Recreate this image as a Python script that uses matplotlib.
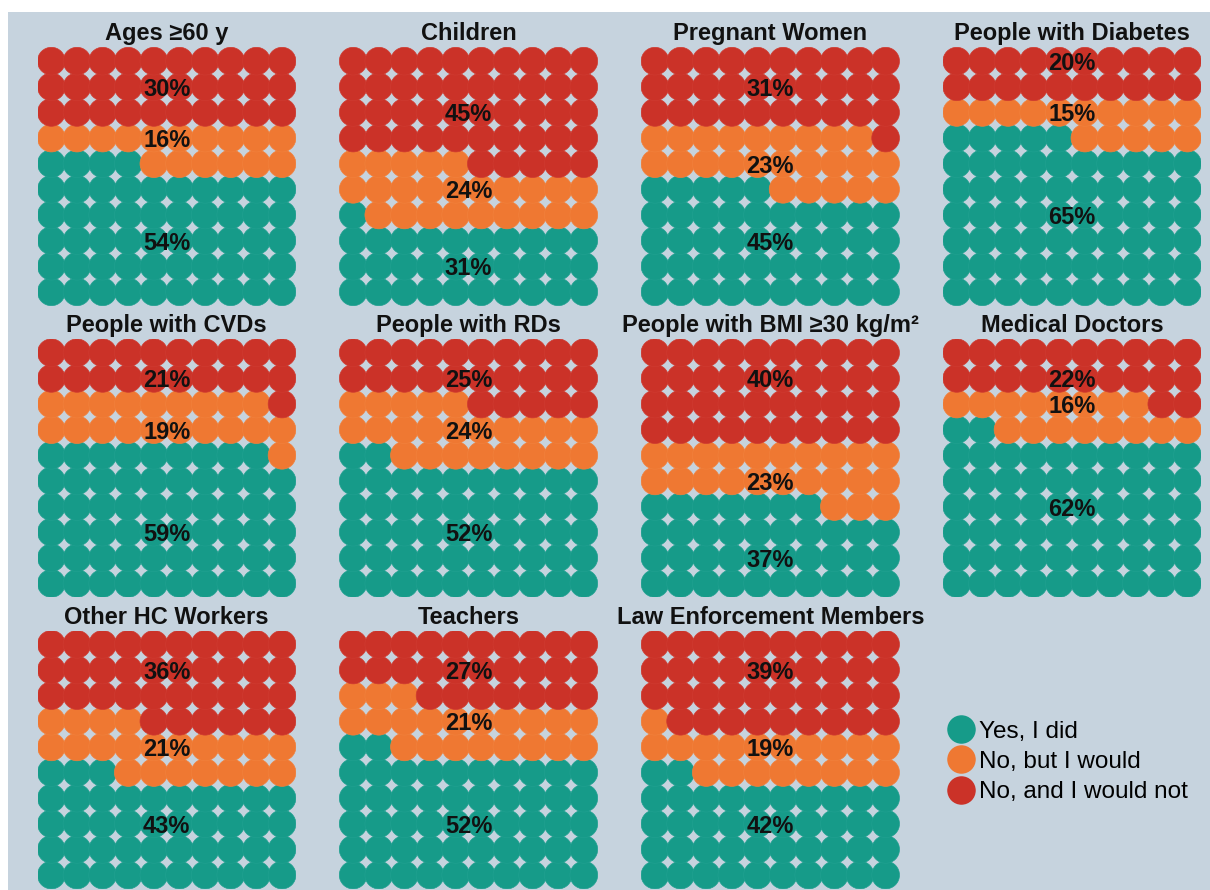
import matplotlib
matplotlib.use('Agg')
import matplotlib.pyplot as plt
from matplotlib.patches import Circle, Rectangle
from matplotlib.lines import Line2D

plt.rcParams['font.family'] = ['Liberation Sans', 'DejaVu Sans']

# ---------------- data ----------------
groups = ["Ages ≥60 y", "Children", "Pregnant Women", "People with Diabetes",
          "People with CVDs", "People with RDs", "People with BMI ≥30 kg/m²", "Medical Doctors",
          "Other HC Workers", "Teachers", "Law Enforcement Members"]
responses = ["Yes, I did", "No, but I would", "No, and I would not"]
colors = ["#169b89", "#ef7832", "#cb3228"]

# percentage labels shown
yes_pct = [54, 31, 45, 65, 59, 52, 37, 62, 43, 52, 42]
but_pct = [16, 24, 23, 15, 19, 24, 23, 16, 21, 21, 19]
not_pct = [30, 45, 31, 20, 21, 25, 40, 22, 36, 27, 39]

# waffle cell counts (out of 100 cells)
yes_cells = [54, 31, 45, 65, 59, 52, 37, 62, 43, 52, 42]
but_cells = [16, 24, 24, 15, 20, 23, 23, 16, 21, 21, 19]
not_cells = [30, 45, 31, 20, 21, 25, 40, 22, 36, 27, 39]

# ---------------- layout ----------------
W, H = 1210, 890
bg = "#c6d3de"
fig = plt.figure(figsize=(W / 100, H / 100), dpi=100)
fig.patch.set_facecolor("white")
fig.add_artist(Rectangle((8 / W, 0), 1 - 8 / W, 1 - 12 / H, transform=fig.transFigure,
                         facecolor=bg, edgecolor="none", zorder=-10))

NC = 10
D = 1.082           # circle diameter in cell units
size_px = 258.4
edge_cols = ["#1fa090", "#f1803b", "#cf3a30"]

for i, g in enumerate(groups):
    r, c = divmod(i, 4)
    left = 37.5 + 301.8 * c
    top = 47.3 + 291.6 * r
    ax = fig.add_axes([left / W, 1 - (top + size_px) / H, size_px / W, size_px / H])
    ax.set_xlim(-D / 2, NC - 1 + D / 2)
    ax.set_ylim(-D / 2, NC - 1 + D / 2)
    ax.axis('off')
    counts = [yes_cells[i], but_cells[i], not_cells[i]]
    pcts = [yes_pct[i], but_pct[i], not_pct[i]]
    k = 0
    for j, n in enumerate(counts):
        for m in range(n):
            idx = k + m
            ax.add_patch(Circle((idx % NC, idx // NC), D / 2, facecolor=colors[j],
                                edgecolor=edge_cols[j], linewidth=0.5))
        mid = k + n // 2
        ax.text((NC - 1) / 2, mid // NC - 0.1, f"{pcts[j]}%", ha='center', va='center',
                fontsize=17, fontweight='bold', color='#111111', zorder=5)
        k += n
    ax.set_title(g, fontsize=17, fontweight='bold', pad=5, color='#111111')

handles = [Line2D([], [], ls='none', marker='o', ms=19.5, mfc=col, mec=col) for col in colors]
fig.legend(handles, responses, loc='center left', bbox_to_anchor=(950 / W, 1 - 762 / H),
           frameon=False, fontsize=17.5, handlelength=0.9, handletextpad=0.3,
           labelspacing=0.33, borderpad=0, borderaxespad=0)

fig.savefig("out.png", dpi=100, facecolor=fig.get_facecolor())
